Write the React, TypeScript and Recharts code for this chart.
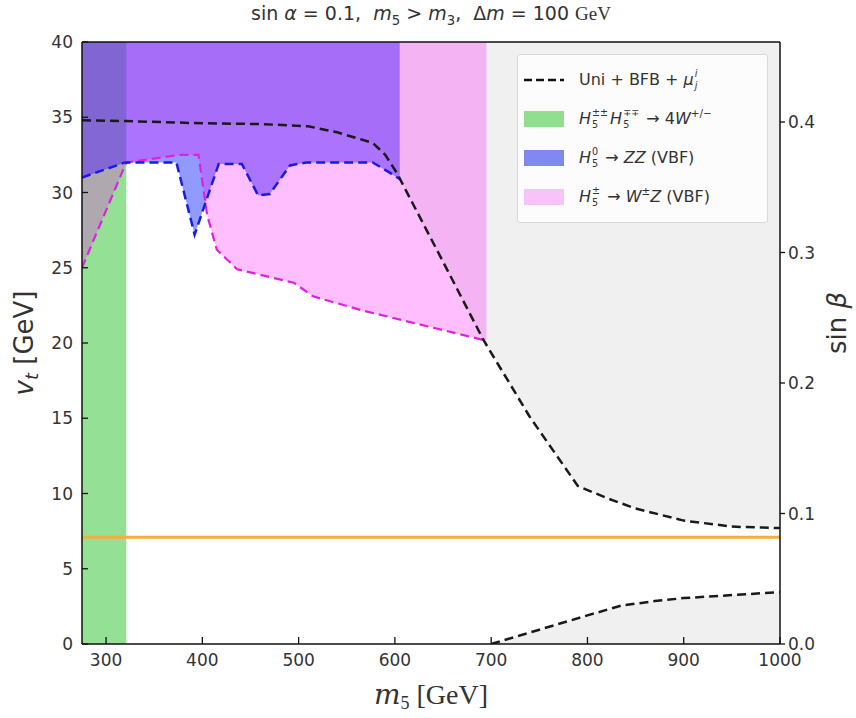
import React from "react";
import { ComposedChart, Area, Line, XAxis, YAxis, ReferenceLine, Label } from "recharts";

// axis ticks
const m5Ticks = [300, 400, 500, 600, 700, 800, 900, 1000];
const vtTicks = [0, 5, 10, 15, 20, 25, 30, 35, 40];
const sinBetaTicks = [0, 0.1, 0.2, 0.3, 0.4];

// Uni + BFB + mu bound (upper branch and lower branch)
const uniM = [275, 320, 400, 460, 510, 540, 577, 590, 602, 650, 692, 740, 790, 820, 850, 900, 950, 1000];
const uniVt = [34.8, 34.75, 34.6, 34.55, 34.4, 34.0, 33.3, 32.5, 31.3, 25.4, 20.2, 15.1, 10.5, 9.7, 9.0, 8.2, 7.8, 7.7];
const uniLowM = [700, 750, 800, 835, 870, 900, 950, 1000];
const uniLowVt = [0, 0.95, 1.9, 2.55, 2.85, 3.05, 3.25, 3.45];

// H5^0 -> ZZ (VBF) limit
const zzM = [275, 320, 373, 392, 417, 441, 458, 470, 491, 508, 577, 595, 605];
const zzVt = [31.0, 32.0, 32.0, 27.2, 31.9, 31.9, 29.8, 29.9, 31.8, 32.0, 32.0, 31.3, 30.9];

// H5^+ -> W Z (VBF) limit
const wzM = [275, 321, 377, 396, 405, 415, 436, 495, 515, 564, 692, 695];
const wzVt = [25.0, 32.0, 32.5, 32.5, 28.5, 26.2, 24.9, 24.0, 23.1, 22.2, 20.2, 20.2];

// H5++ H5-- -> 4W excluded band
const greenBand = [275, 321];
const orangeVt = 7.1;

const VT_MAX = 40;
const SINB_MAX = 0.4613;

const line = (xs: number[], ys: number[]) => xs.map((m, i) => ({ m, v: ys[i] }));
const above = (xs: number[], ys: number[]) => xs.map((m, i) => ({ m, r: [ys[i], VT_MAX] }));
const below = (xs: number[], ys: number[]) => xs.map((m, i) => ({ m, r: [0, ys[i]] }));

const tickFont = { fontSize: 17, fill: "#333", fontFamily: "DejaVu Sans" };
const dash = "9 5";

function SupSub({ sup, sub }: { sup: React.ReactNode; sub: React.ReactNode }) {
  return (
    <span
      style={{
        display: "inline-block",
        verticalAlign: "-4px",
        fontSize: "0.6em",
        lineHeight: "1.2em",
        textAlign: "left",
        margin: "0 2px 0 1px",
        fontStyle: "normal",
      }}
    >
      <span style={{ display: "block" }}>{sup}</span>
      <span style={{ display: "block" }}>{sub}</span>
    </span>
  );
}

function Patch({ color }: { color: string }) {
  return <span style={{ display: "inline-block", width: 40, height: 16, background: color, marginRight: 15 }} />;
}

function LegendBox() {
  const row: React.CSSProperties = { display: "flex", alignItems: "center", height: 39, whiteSpace: "pre" };
  return (
    <div
      style={{
        position: "absolute",
        left: 517,
        top: 54,
        width: 251,
        height: 169,
        boxSizing: "border-box",
        padding: "5px 6px",
        background: "rgba(255,255,255,0.8)",
        border: "1px solid #d8d8d8",
        borderRadius: 3,
        fontFamily: "DejaVu Sans",
        fontSize: 16,
        color: "#333",
      }}
    >
      <div style={row}>
        <svg width={40} height={6} style={{ marginRight: 15 }}>
          <line x1={0} y1={3} x2={40} y2={3} stroke="#111" strokeWidth={2.5} strokeDasharray="8 4" />
        </svg>
        <span>
          Uni + BFB + <i>μ</i>
          <SupSub sup={<i>i</i>} sub={<i>j</i>} />
        </span>
      </div>
      <div style={row}>
        <Patch color="#8fdf8f" />
        <span>
          <i>H</i>
          <SupSub sup="±±" sub="5" />
          <i>H</i>
          <SupSub sup="∓∓" sub="5" /> → 4<i>W</i>
          <sup style={{ fontSize: "0.65em" }}>+/−</sup>
        </span>
      </div>
      <div style={row}>
        <Patch color="#8088f2" />
        <span>
          <i>H</i>
          <SupSub sup="0" sub="5" /> → <i>ZZ</i> (VBF)
        </span>
      </div>
      <div style={row}>
        <Patch color="#f8c3f8" />
        <span>
          <i>H</i>
          <SupSub sup="±" sub="5" /> → <i>W</i>
          <sup style={{ fontSize: "0.65em" }}>±</sup>
          <i>Z</i> (VBF)
        </span>
      </div>
    </div>
  );
}

export default function App() {
  return (
    <div style={{ position: "absolute", left: 0, top: 0, width: 856, height: 718, background: "#fff" }}>
      <div
        style={{
          position: "absolute",
          left: 82,
          width: 698,
          top: 2,
          textAlign: "center",
          fontFamily: "DejaVu Sans",
          fontSize: 19,
          color: "#333",
          whiteSpace: "pre",
        }}
      >
        sin <i>α</i> = 0.1,  <i>m</i>
        <sub style={{ fontSize: "0.7em" }}>5</sub> &gt; <i>m</i>
        <sub style={{ fontSize: "0.7em" }}>3</sub>,  Δ<i>m</i> = 100{" "}
        <span style={{ fontFamily: "Liberation Serif" }}>GeV</span>
      </div>
      <ComposedChart width={856} height={718} margin={{ top: 42, right: 26, bottom: 34, left: 32 }}>
        <XAxis
          dataKey="m"
          type="number"
          domain={[275, 1000]}
          ticks={m5Ticks}
          interval={0}
          allowDataOverflow
          tick={tickFont}
          tickSize={-7}
          tickMargin={17}
          tickLine={{ stroke: "#111", strokeWidth: 1.3 }}
          axisLine={{ stroke: "#111", strokeWidth: 1.5 }}
          height={40}
        >
          <Label
            content={({ viewBox }: any) => (
              <text
                x={viewBox.x + viewBox.width / 2}
                y={viewBox.y + 60}
                textAnchor="middle"
                fill="#333"
                fontSize={28}
                fontFamily="Liberation Serif"
              >
                <tspan fontStyle="italic" fontFamily="DejaVu Serif">m</tspan>
                <tspan fontSize={18} dy={5}>5</tspan>
                <tspan dy={-5}> [GeV]</tspan>
              </text>
            )}
          />
        </XAxis>
        <YAxis
          yAxisId="left"
          type="number"
          domain={[0, VT_MAX]}
          ticks={vtTicks}
          interval={0}
          allowDataOverflow
          width={50}
          tick={tickFont}
          tickSize={-6}
          tickMargin={15}
          tickLine={{ stroke: "#111", strokeWidth: 1.3 }}
          axisLine={{ stroke: "#111", strokeWidth: 1.5 }}
        >
          <Label
            content={({ viewBox }: any) => {
              const cx = 33;
              const cy = viewBox.y + viewBox.height / 2;
              return (
                <text
                  x={cx}
                  y={cy}
                  transform={`rotate(-90, ${cx}, ${cy})`}
                  textAnchor="middle"
                  fill="#333"
                  fontSize={26}
                  fontFamily="DejaVu Sans"
                >
                  <tspan fontStyle="italic">v</tspan>
                  <tspan fontStyle="italic" fontSize={18} dy={5}>t</tspan>
                  <tspan dy={-5}> [GeV]</tspan>
                </text>
              );
            }}
          />
        </YAxis>
        <YAxis
          yAxisId="right"
          orientation="right"
          type="number"
          domain={[0, SINB_MAX]}
          ticks={sinBetaTicks}
          interval={0}
          allowDataOverflow
          width={50}
          tick={tickFont}
          tickFormatter={(v: number) => v.toFixed(1)}
          tickSize={5}
          tickMargin={3}
          tickLine={{ stroke: "#111", strokeWidth: 1.3 }}
          axisLine={{ stroke: "#111", strokeWidth: 1.5 }}
        >
          <Label
            content={() => {
              const cx = 846;
              const cy = 323;
              return (
                <text
                  x={cx}
                  y={cy}
                  transform={`rotate(-90, ${cx}, ${cy})`}
                  textAnchor="middle"
                  fill="#333"
                  fontSize={26}
                  fontFamily="DejaVu Sans"
                >
                  sin <tspan fontStyle="italic">β</tspan>
                </text>
              );
            }}
          />
        </YAxis>

        {/* excluded by unitarity / BFB */}
        <Area yAxisId="left" data={above(uniM, uniVt)} dataKey="r" type="linear" stroke="none" fill="#f0f0f0" fillOpacity={1} isAnimationActive={false} activeDot={false} />
        <Area yAxisId="left" data={below(uniLowM, uniLowVt)} dataKey="r" type="linear" stroke="none" fill="#f0f0f0" fillOpacity={1} isAnimationActive={false} activeDot={false} />
        {/* H5++ H5-- -> 4W */}
        <Area yAxisId="left" data={below(greenBand, [VT_MAX, VT_MAX])} dataKey="r" type="linear" stroke="none" fill="#4ccc4c" fillOpacity={0.6} isAnimationActive={false} activeDot={false} />
        {/* ZZ */}
        <Area yAxisId="left" data={above(zzM, zzVt)} dataKey="r" type="linear" stroke="none" fill="#1a2cff" fillOpacity={0.48} isAnimationActive={false} activeDot={false} />
        {/* WZ */}
        <Area yAxisId="left" data={above(wzM, wzVt)} dataKey="r" type="linear" stroke="none" fill="#ff00ff" fillOpacity={0.25} isAnimationActive={false} activeDot={false} />

        <Line yAxisId="left" data={line(wzM, wzVt)} dataKey="v" type="linear" stroke="#e020e0" strokeWidth={2.2} strokeDasharray={dash} dot={false} activeDot={false} isAnimationActive={false} />
        <Line yAxisId="left" data={line(zzM, zzVt)} dataKey="v" type="linear" stroke="#1a1ae6" strokeWidth={2.5} strokeDasharray={dash} dot={false} activeDot={false} isAnimationActive={false} />
        <Line yAxisId="left" data={line(uniM, uniVt)} dataKey="v" type="linear" stroke="#1a1a1a" strokeWidth={2.5} strokeDasharray={dash} dot={false} activeDot={false} isAnimationActive={false} />
        <Line yAxisId="left" data={line(uniLowM, uniLowVt)} dataKey="v" type="linear" stroke="#1a1a1a" strokeWidth={2.5} strokeDasharray={dash} dot={false} activeDot={false} isAnimationActive={false} />

        <ReferenceLine yAxisId="left" y={orangeVt} stroke="#f6ad3c" strokeWidth={3} />
        <ReferenceLine yAxisId="left" y={VT_MAX} stroke="#111" strokeWidth={1.5} />
      </ComposedChart>
      <LegendBox />
    </div>
  );
}
